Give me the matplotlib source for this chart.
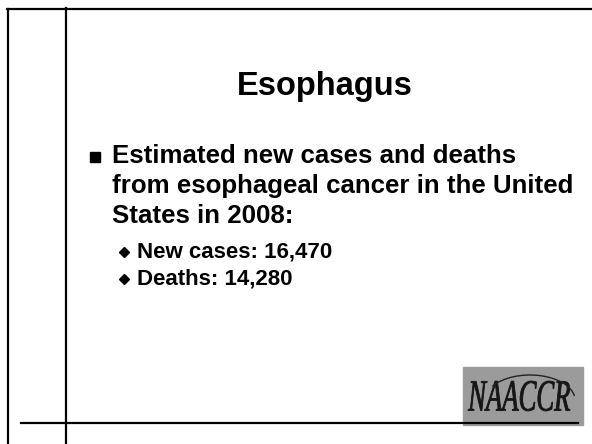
import matplotlib
matplotlib.use("Agg")
import matplotlib.pyplot as plt
from matplotlib.patches import Rectangle, PathPatch, Arc
from matplotlib.textpath import TextPath
from matplotlib.font_manager import FontProperties
from matplotlib.transforms import Affine2D

# slide content
title = "Esophagus"
bullet_lines = ["Estimated new cases and deaths",
                "from esophageal cancer in the United",
                "States in 2008:"]
sub_items = ["New cases: 16,470", "Deaths: 14,280"]
logo_text = "NAACCR"

plt.rcParams['font.family'] = ['Liberation Sans', 'DejaVu Sans']

fig = plt.figure(figsize=(5.92, 4.44), dpi=100)
ax = fig.add_axes([0, 0, 1, 1])
ax.set_xlim(0, 592)
ax.set_ylim(444, 0)
ax.axis('off')

# frame lines
ax.plot([7.5, 7.5], [9, 444], color='black', lw=1.6)
ax.plot([65.5, 65.5], [8, 444], color='black', lw=1.6)
ax.plot([7, 592], [9.5, 9.5], color='black', lw=1.6)

# title
ax.text(325, 95, title, ha='center', va='baseline', fontsize=23.5, fontweight='bold')

# main bullet
ax.add_patch(Rectangle((89.5, 152), 10, 10, color='black'))
y = 163
for line in bullet_lines:
    ax.text(112, y, line, ha='left', va='baseline', fontsize=18.6, fontweight='bold')
    y += 30

# sub bullets
y = 257
for item in sub_items:
    ax.plot(123.5, y - 5, marker='D', color='black', markersize=5)
    ax.text(137, y, item, ha='left', va='baseline', fontsize=16, fontweight='bold')
    y += 27

# logo
ax.add_patch(Rectangle((463, 367), 120, 58, color='#9b9b9b', zorder=1))
fp = FontProperties(family='Liberation Serif', style='italic')
tp = TextPath((0, 0), logo_text, size=44, prop=fp)
bb = tp.get_extents()
sx = 102 / bb.width
sy = 30 / bb.height
tr = Affine2D().translate(-bb.x0, -bb.y0).scale(sx, -sy).translate(468, 411)
ax.add_patch(PathPatch(tr.transform_path(tp), facecolor='#151515', edgecolor='#151515',
                       lw=0.6, zorder=2))
ax.add_patch(Arc((530, 400), 90, 50, theta1=200, theta2=355, color='#222222', lw=1.0, zorder=2))

# bottom line
ax.plot([21, 578], [422.5, 422.5], color='black', lw=1.6, zorder=3)

fig.savefig("out.png", dpi=100)
